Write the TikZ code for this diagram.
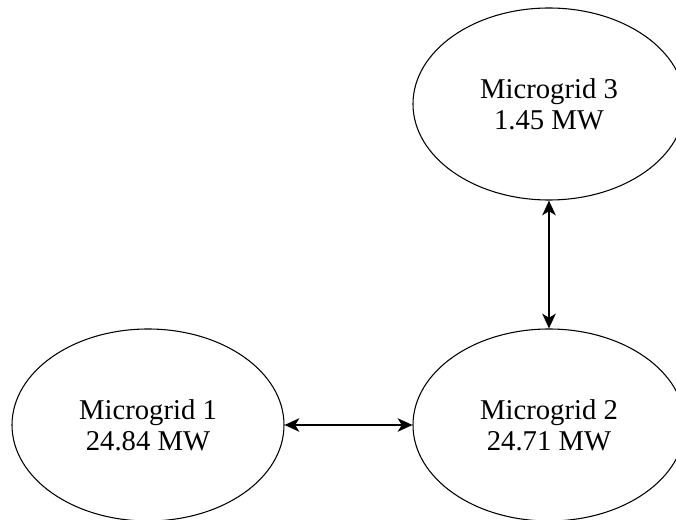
\documentclass[tikz,border=0pt]{standalone}
\usepackage{fontspec}
\setmainfont{Liberation Serif}
\usetikzlibrary{shapes.geometric,arrows.meta,positioning}

\begin{document}
\begin{tikzpicture}[x=0.75pt,y=-0.75pt]
% Define node styles
\tikzstyle{grid} = [ellipse, draw, line width=0.8pt, inner sep=0pt, minimum width=204pt, minimum height=144pt, align=center, font=\fontsize{21.5}{23.5}\selectfont]
\tikzstyle{link} = [line width=2pt, {Stealth[length=11pt,width=10pt,inset=3pt]}-{Stealth[length=11pt,width=10pt,inset=3pt]}]

\useasboundingbox (0,0) rectangle (676,520);

% Draw nodes
\node[grid] (mg3) at (549,104) {Microgrid 3\\1.45 MW};
\node[grid] (mg2) at (549,425) {Microgrid 2\\24.71 MW};
\node[grid] (mg1) at (148,425) {Microgrid 1\\24.84 MW};

% Draw edges
\draw[link] (mg3) -- (mg2);
\draw[link] (mg1) -- (mg2);
\end{tikzpicture}
\end{document}
